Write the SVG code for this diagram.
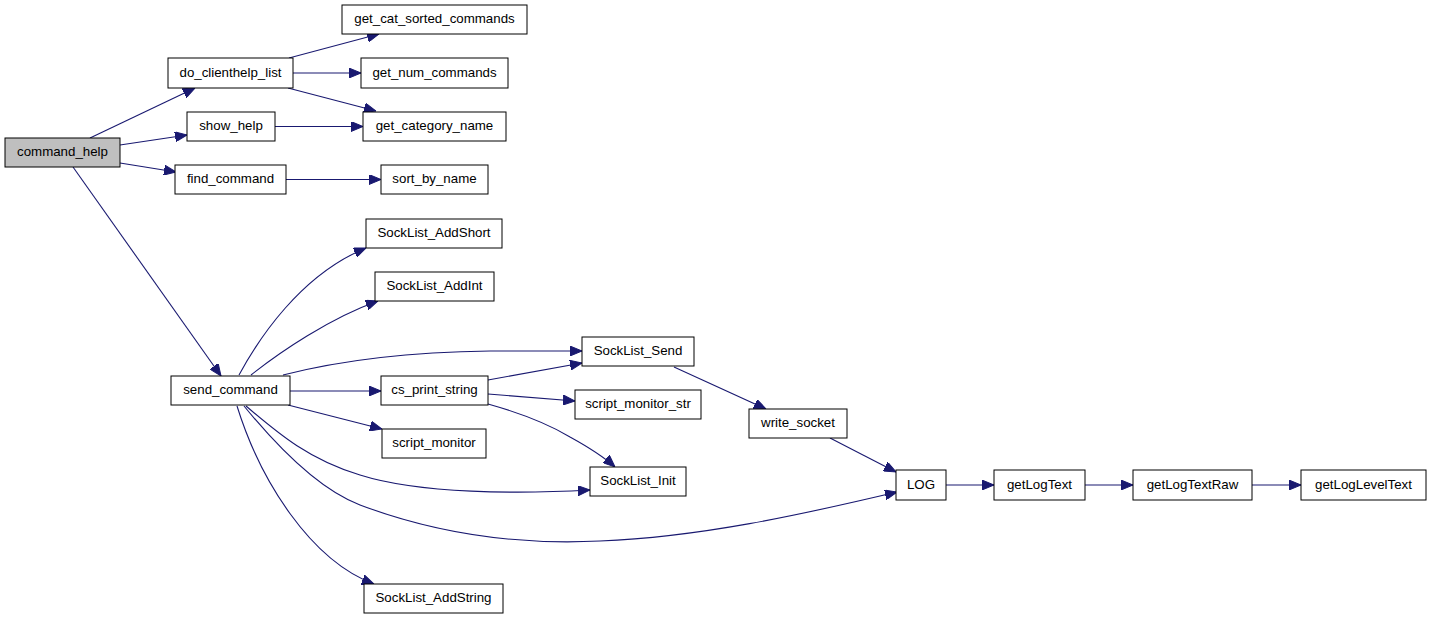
<svg xmlns="http://www.w3.org/2000/svg" width="1432" height="619" viewBox="0 0 1432 619">
<style>
.n rect{fill:#ffffff;stroke:#000000;stroke-width:1}
.n.root rect{fill:#bfbfbf}
.n text{font-family:"Liberation Sans",Arial,sans-serif;font-size:13.3px;fill:#000000;text-anchor:middle}
.e path{fill:none;stroke:#191970;stroke-width:1.1;marker-end:url(#arr)}
</style>
<defs>
<marker id="arr" viewBox="0 0 12 10" refX="12" refY="5" markerWidth="12" markerHeight="10" markerUnits="userSpaceOnUse" orient="auto">
<path d="M0,0 L12,5 L0,10 z" fill="#191970" stroke="#191970"/>
</marker>
</defs>
<rect width="1432" height="619" fill="#ffffff"/>
<g id="edges" class="e">
<path d="M90,138 L195,88"/>
<path d="M120,145 L187,135"/>
<path d="M120,163 L176,172"/>
<path d="M73,167 L221,376"/>
<path d="M289,58 L379,34"/>
<path d="M293,73 L361,73"/>
<path d="M288,88 L376,111"/>
<path d="M275,126.5 L363,126.5"/>
<path d="M286,179.5 L381,179.5"/>
<path d="M239,375 C258,340 300,275 366,248"/>
<path d="M251,375 C280,352 330,318 378,301"/>
<path d="M283,375 C330,363 400,352 490,351 C530,351 560,351 582,351"/>
<path d="M290,391 L381,391"/>
<path d="M288,405 L382,429"/>
<path d="M246,406 C280,435 310,460 360,475 C420,494 520,494 590,490"/>
<path d="M244,406 C280,450 320,490 360,505 C440,535 520,545 600,541 C700,537 800,515 897,492"/>
<path d="M237,406 C260,480 310,560 374,584"/>
<path d="M488,380 L582,363"/>
<path d="M488,394 L575,401"/>
<path d="M488,404 C520,413 550,425 570,437 C590,448 605,458 615,467"/>
<path d="M674,367 L766,409"/>
<path d="M830,438 L896,472"/>
<path d="M946,485 L994,485"/>
<path d="M1085,485 L1133,485"/>
<path d="M1252,485 L1301,485"/>
</g>
<g id="command_help" class="n root"><rect x="5" y="138" width="115" height="29"/><text x="62.5" y="156.3">command_help</text></g>
<g id="do_clienthelp_list" class="n"><rect x="168" y="58" width="125" height="30"/><text x="230.5" y="76.5">do_clienthelp_list</text></g>
<g id="get_cat_sorted_commands" class="n"><rect x="342" y="5" width="185" height="29"/><text x="434.5" y="23.3">get_cat_sorted_commands</text></g>
<g id="get_num_commands" class="n"><rect x="361" y="58" width="147" height="30"/><text x="434.5" y="76.5">get_num_commands</text></g>
<g id="show_help" class="n"><rect x="187" y="112" width="88" height="29"/><text x="231" y="130.3">show_help</text></g>
<g id="get_category_name" class="n"><rect x="363" y="112" width="143" height="29"/><text x="434.5" y="130.3">get_category_name</text></g>
<g id="find_command" class="n"><rect x="175" y="165" width="111" height="29"/><text x="230.5" y="183.3">find_command</text></g>
<g id="sort_by_name" class="n"><rect x="381" y="165" width="107" height="29"/><text x="434.5" y="183.3">sort_by_name</text></g>
<g id="SockList_AddShort" class="n"><rect x="366" y="219" width="136" height="29"/><text x="434" y="237.3">SockList_AddShort</text></g>
<g id="SockList_AddInt" class="n"><rect x="375" y="272" width="119" height="29"/><text x="434.5" y="290.3">SockList_AddInt</text></g>
<g id="SockList_Send" class="n"><rect x="582" y="337" width="112" height="29"/><text x="638" y="355.3">SockList_Send</text></g>
<g id="send_command" class="n"><rect x="171" y="376" width="119" height="29"/><text x="230.5" y="394.3">send_command</text></g>
<g id="cs_print_string" class="n"><rect x="381" y="376" width="107" height="29"/><text x="434.5" y="394.3">cs_print_string</text></g>
<g id="script_monitor_str" class="n"><rect x="575" y="390" width="126" height="29"/><text x="638" y="408.3">script_monitor_str</text></g>
<g id="write_socket" class="n"><rect x="749" y="409" width="98" height="29"/><text x="798" y="427.3">write_socket</text></g>
<g id="script_monitor" class="n"><rect x="382" y="429" width="104" height="29"/><text x="434" y="447.3">script_monitor</text></g>
<g id="SockList_Init" class="n"><rect x="590" y="467" width="96" height="29"/><text x="638" y="485.3">SockList_Init</text></g>
<g id="LOG" class="n"><rect x="896" y="470" width="50" height="30"/><text x="921" y="488.8">LOG</text></g>
<g id="getLogText" class="n"><rect x="994" y="470" width="91" height="30"/><text x="1039.5" y="488.8">getLogText</text></g>
<g id="getLogTextRaw" class="n"><rect x="1133" y="470" width="119" height="30"/><text x="1192.5" y="488.8">getLogTextRaw</text></g>
<g id="getLogLevelText" class="n"><rect x="1301" y="470" width="125" height="30"/><text x="1363.5" y="488.8">getLogLevelText</text></g>
<g id="SockList_AddString" class="n"><rect x="364" y="584" width="139" height="29"/><text x="433.5" y="602.3">SockList_AddString</text></g>
</svg>
